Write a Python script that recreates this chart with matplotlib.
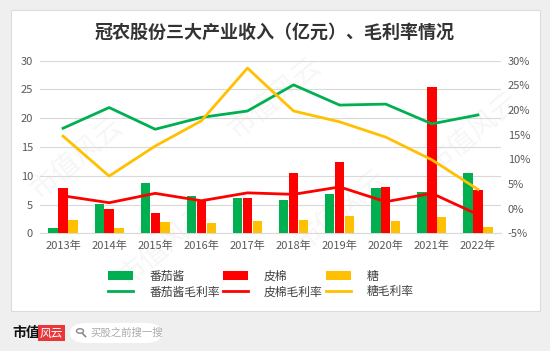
import numpy as np
import matplotlib.pyplot as plt
from matplotlib.patches import FancyBboxPatch, Rectangle, Circle
from matplotlib.lines import Line2D

plt.rcParams['font.family'] = ['Noto Sans CJK SC', 'DejaVu Sans']

years = ['2013年', '2014年', '2015年', '2016年', '2017年',
         '2018年', '2019年', '2020年', '2021年', '2022年']
tomato = [1.0, 5.1, 8.8, 6.5, 6.1, 5.8, 6.8, 7.8, 7.1, 10.4]
cotton = [7.8, 4.2, 3.6, 5.8, 6.1, 10.4, 12.4, 8.1, 25.4, 7.5]
sugar = [2.3, 0.9, 2.0, 1.85, 2.2, 2.3, 3.0, 2.1, 2.8, 1.15]
tomato_margin = [16.3, 20.5, 16.1, 18.5, 19.8, 25.1, 21.0, 21.2, 17.2, 19.0]
cotton_margin = [2.6, 1.2, 3.1, 1.6, 3.2, 2.9, 4.4, 1.4, 3.1, -1.2]
sugar_margin = [14.7, 6.6, 12.7, 17.8, 28.5, 19.8, 17.6, 14.5, 9.9, 3.9]

GREEN = '#00b050'
RED = '#ff0000'
YELLOW = '#ffc000'

fig = plt.figure(figsize=(5.5, 3.51), dpi=100)
fig.patch.set_facecolor('#efefef')

# white panel behind everything
panel = Rectangle((11 / 550, 1 - 311 / 351), 529 / 550, 301 / 351,
                  transform=fig.transFigure, facecolor='white',
                  edgecolor='#dcdcdc', linewidth=0.8, zorder=-5)
fig.patches.append(panel)

# faint watermarks
for (wx, wy) in [(0.14, 0.55), (0.5, 0.72), (0.62, 0.4), (0.3, 0.3), (0.86, 0.62)]:
    fig.text(wx, wy, '市值风云', fontsize=20, color='#f6f6f6', rotation=40,
             ha='center', va='center', zorder=-4)

fig.text(0.5, 1 - 32 / 351, '冠农股份三大产业收入（亿元）、毛利率情况',
         fontsize=13, fontweight='bold', color='#333333', ha='center', va='center')

ax = fig.add_axes([40 / 550, 1 - 233.3 / 351, 461 / 550, 172.6 / 351])
ax.set_facecolor('none')
x = np.arange(len(years))
w = 0.205
ax.bar(x - w - 0.01, tomato, w, color=GREEN, label='番茄酱', zorder=3)
ax.bar(x, cotton, w, color=RED, label='皮棉', zorder=3)
ax.bar(x + w + 0.01, sugar, w, color=YELLOW, label='糖', zorder=3)
ax.set_ylim(0, 30)
ax.set_yticks(range(0, 31, 5))
ax.set_xlim(-0.5, len(years) - 0.5)
ax.set_xticks(x)
ax.set_xticklabels(years)
ax.grid(axis='y', color='#d9d9d9', linewidth=0.8, zorder=0)
ax.set_axisbelow(True)
for s in ['top', 'left', 'right']:
    ax.spines[s].set_visible(False)
ax.spines['bottom'].set_color('#d9d9d9')
ax.tick_params(length=0, labelsize=8, colors='#595959', pad=5)

ax2 = ax.twinx()
ax2.plot(x, tomato_margin, color=GREEN, lw=2, label='番茄酱毛利率', zorder=4)
ax2.plot(x, cotton_margin, color=RED, lw=2, label='皮棉毛利率', zorder=4)
ax2.plot(x, sugar_margin, color=YELLOW, lw=2, label='糖毛利率', zorder=4)
ax2.set_ylim(-5, 30)
ax2.set_yticks(range(-5, 31, 5))
ax2.set_yticklabels([f'{v}%' for v in range(-5, 31, 5)])
for s in ax2.spines.values():
    s.set_visible(False)
ax2.tick_params(length=0, labelsize=8, colors='#595959', pad=5)

h1, l1 = ax.get_legend_handles_labels()
h2, l2 = ax2.get_legend_handles_labels()
handles = [h1[0], h2[0], h1[1], h2[1], h1[2], h2[2]]
labels = [l1[0], l2[0], l1[1], l2[1], l1[2], l2[2]]
fig.legend(handles, labels, ncol=3, loc='center', bbox_to_anchor=(0.475, 1 - 284 / 351),
           frameon=False, fontsize=8.5, handlelength=2.1, handleheight=0.8,
           columnspacing=0.3, handletextpad=1.35, labelspacing=0.25,
           labelcolor='#404040')

# footer logo
fig.text(12 / 550, 1 - 333 / 351, '市值', fontsize=10, fontweight='bold',
         color='#111111', ha='left', va='center')
fig.text(40 / 550, 1 - 333 / 351, '风云', fontsize=8.5, fontstyle='italic',
         color='white', ha='left', va='center',
         bbox=dict(boxstyle='square,pad=0.15', facecolor='#e8363a', edgecolor='none'))
pill = FancyBboxPatch((70 / 550, 1 - 343 / 351), 92 / 550, 20 / 351,
                      boxstyle='round,pad=0,rounding_size=0.03',
                      transform=fig.transFigure, facecolor='white',
                      edgecolor='none', zorder=1)
fig.patches.append(pill)
# magnifier icon
cx, cy = 80 / 550, 1 - 331 / 351
fig.patches.append(Circle((cx, cy), 3.5 / 550, transform=fig.transFigure,
                          facecolor='none', edgecolor='#888888', lw=1, zorder=2))
fig.lines.append(Line2D([cx + 2.5 / 550, cx + 5.5 / 550], [cy - 2.5 / 351, cy - 5.5 / 351],
                        transform=fig.transFigure, color='#888888', lw=1.2, zorder=2))
fig.text(90 / 550, 1 - 333 / 351, '买股之前搜一搜', fontsize=7.5,
         color='#aaaaaa', ha='left', va='center')

fig.savefig('out.png', dpi=100, facecolor=fig.get_facecolor())
